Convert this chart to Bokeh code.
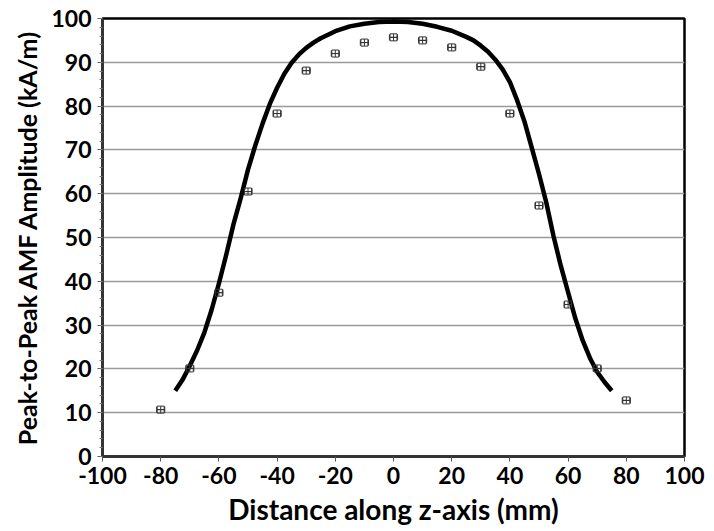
from bokeh.plotting import figure
from bokeh.models import Range1d, FixedTicker, Whisker, ColumnDataSource
from bokeh.embed import file_html
from bokeh.resources import INLINE

# Measured data points (distance mm, amplitude kA/m)
meas_x = [-80, -70, -60, -50, -40, -30, -20, -10, 0, 10, 20, 30, 40, 50, 60, 70, 80]
meas_y = [10.7, 20.1, 37.4, 60.5, 78.3, 88.1, 92.0, 94.5, 95.7, 95.0, 93.4, 89.0, 78.3, 57.3, 34.7, 20.1, 12.8]
meas_xerr = [1.4] * len(meas_x)

# Simulated curve
curve_x = [-75, -72.5, -70, -67.5, -65, -62.5, -60, -57.5, -55, -52.5, -50, -47.5, -45, -42.5,
           -40, -37.5, -35, -32.5, -30, -27.5, -25, -20, -15, -10, -5, 0,
           5, 10, 15, 20, 25, 27.5, 30, 32.5, 35, 37.5, 40, 42.5, 45, 47.5, 50, 52.5,
           55, 57.5, 60, 62.5, 65, 67.5, 70, 72.5, 75]
curve_y = [15.0, 17.5, 20.7, 24.2, 28.3, 33.5, 39.5, 46.0, 53.0, 59.0, 65.5, 71.0, 76.0, 80.5,
           84.2, 87.4, 89.9, 91.8, 93.3, 94.5, 95.5, 97.1, 98.2, 98.8, 99.2, 99.3,
           99.2, 98.8, 98.1, 97.2, 95.8, 95.0, 93.8, 92.4, 90.6, 88.4, 85.5, 81.3, 76.5, 70.5, 64.5, 58.0,
           50.3, 43.5, 37.5, 31.5, 26.5, 22.5, 19.3, 17.0, 15.0]

x_ticks = list(range(-100, 101, 20))
y_ticks = list(range(0, 101, 10))
x_tick_labels = {t: str(t) for t in x_ticks}

FONT = "Lato"

p = figure(frame_width=582, frame_height=438, output_backend="svg", toolbar_location=None,
           x_range=Range1d(-100, 100), y_range=Range1d(0, 100),
           min_border_left=102, min_border_top=18, min_border_right=22, min_border_bottom=70)

p.outline_line_color = "black"
p.outline_line_width = 2.5

p.xgrid.visible = False
p.ygrid.grid_line_color = "#9a9a9a"
p.ygrid.grid_line_width = 1.5
p.ygrid.ticker = FixedTicker(ticks=y_ticks)

p.xaxis.ticker = FixedTicker(ticks=x_ticks, minor_ticks=[])
p.yaxis.ticker = FixedTicker(ticks=y_ticks, minor_ticks=list(range(0, 101, 2)))
p.xaxis.major_label_overrides = x_tick_labels

for ax in (p.xaxis, p.yaxis):
    ax.axis_line_color = "#333333"
    ax.axis_line_width = 2.5
    ax.major_tick_line_color = "#555555"
    ax.major_tick_line_width = 1
    ax.major_tick_out = 5
    ax.major_tick_in = 0
    ax.major_label_text_font = FONT
    ax.major_label_text_font_style = "bold"
    ax.major_label_text_font_size = "23px"
    ax.major_label_text_color = "black"
    ax.axis_label_text_font = FONT
    ax.axis_label_text_font_style = "bold"
    ax.axis_label_text_color = "black"

p.xaxis.axis_label_text_font_size = "28px"
p.yaxis.axis_label_text_font_size = "25px"
p.xaxis.minor_tick_line_color = None
p.yaxis.minor_tick_line_color = "#777777"
p.yaxis.minor_tick_out = 3
p.yaxis.minor_tick_in = 0
p.xaxis.major_label_standoff = 5
p.yaxis.major_label_standoff = 6
p.xaxis.axis_label = "Distance along z-axis (mm)"
p.yaxis.axis_label = "Peak-to-Peak AMF Amplitude (kA/m)"
p.xaxis.axis_label_standoff = 5
p.yaxis.axis_label_standoff = 6

# Simulated curve
p.line(curve_x, curve_y, line_color="black", line_width=4.5, line_join="round")

# Measured points with horizontal error bars
src = ColumnDataSource(data=dict(
    x=meas_x, y=meas_y,
    lo=[a - e for a, e in zip(meas_x, meas_xerr)],
    hi=[a + e for a, e in zip(meas_x, meas_xerr)],
))
w = Whisker(source=src, base="y", lower="lo", upper="hi", dimension="width",
            line_color="#333333", line_width=1)
w.upper_head.size = 6
w.lower_head.size = 6
w.upper_head.line_color = "#333333"
w.lower_head.line_color = "#333333"
p.add_layout(w)
p.scatter("x", "y", source=src, marker="square_cross", size=7, fill_color=None,
          line_color="#333333", line_width=1)

open("out.html", "w").write(file_html(p, INLINE))
